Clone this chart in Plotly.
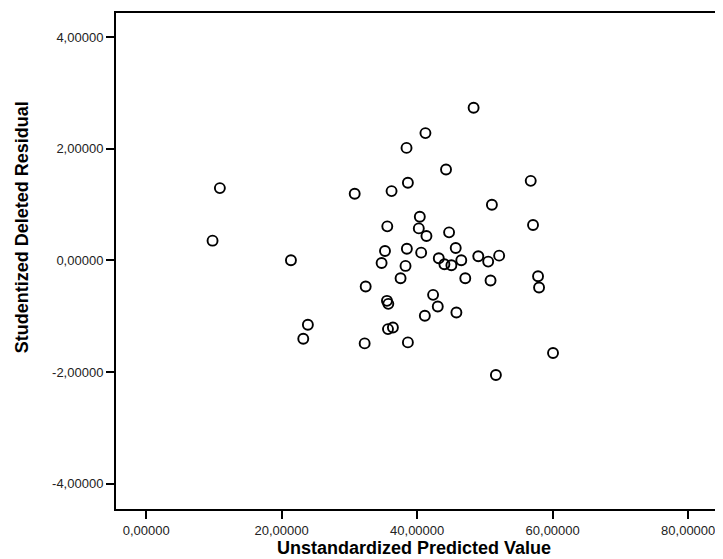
import plotly.graph_objects as go

# Data
predicted = [10.88, 9.80, 21.37, 23.87, 23.19, 30.78, 32.25, 32.40, 36.22, 38.63,
             38.43, 41.22, 48.33, 44.26, 35.59, 40.39, 40.24, 41.37, 44.71, 35.25,
             38.48, 40.59, 45.69, 34.75, 38.28, 37.55, 43.19, 44.02, 45.05, 46.51,
             47.10, 49.02, 42.35, 43.04, 35.54, 35.74, 41.13, 45.79, 35.69, 36.42,
             38.63, 56.76, 51.03, 57.10, 50.48, 52.10, 50.83, 57.84, 57.99, 60.05,
             51.62]
residual = [1.295, 0.354, 0.003, -1.152, -1.402, 1.193, -1.485, -0.467, 1.241, 1.390,
            2.015, 2.280, 2.735, 1.628, 0.610, 0.783, 0.574, 0.437, 0.503, 0.170,
            0.210, 0.140, 0.223, -0.045, -0.098, -0.318, 0.039, -0.068, -0.086, 0.003,
            -0.318, 0.075, -0.616, -0.825, -0.723, -0.777, -0.991, -0.932, -1.229, -1.200,
            -1.467, 1.425, 0.997, 0.634, -0.021, 0.086, -0.360, -0.283, -0.485, -1.658,
            -2.050]

x_tickvals = [0, 20, 40, 60, 80]
x_ticktext = ["0,00000", "20,00000", "40,00000", "60,00000", "80,00000"]
y_tickvals = [-4, -2, 0, 2, 4]
y_ticktext = ["-4,00000", "-2,00000", "0,00000", "2,00000", "4,00000"]

x_title = "Unstandardized Predicted Value"
y_title = "Studentized Deleted Residual"

fig = go.Figure()
fig.add_trace(go.Scatter(
    x=predicted, y=residual, mode="markers",
    marker=dict(symbol="circle-open", size=10, color="black",
                line=dict(color="black", width=1.9)),
    showlegend=False, hoverinfo="x+y",
))

axis_common = dict(
    showline=True, linecolor="black", linewidth=2, mirror=True,
    ticks="outside", ticklen=8, tickwidth=2, tickcolor="black",
    showgrid=False, zeroline=False,
    tickfont=dict(family="Liberation Sans, Arial, sans-serif", size=13, color="#222222"),
)

# The page body adds an 8px margin, so the figure is sized/offset to compensate.
fig.update_layout(
    width=715, height=551,
    margin=dict(l=108, r=3, t=4, b=50),
    paper_bgcolor="white", plot_bgcolor="white",
    xaxis=dict(range=[-4.45, 84.4], tickvals=x_tickvals, ticktext=x_ticktext,
               **axis_common),
    yaxis=dict(range=[-4.45, 4.43], tickvals=y_tickvals, ticktext=y_ticktext,
               **axis_common),
    annotations=[
        dict(text="<b>" + x_title + "</b>", xref="paper", yref="paper",
             x=0.495, y=-0.079, xanchor="center", yanchor="middle", showarrow=False,
             font=dict(family="Liberation Sans, Arial, sans-serif", size=18, color="black")),
        dict(text="<b>" + y_title + "</b>", xref="paper", yref="paper",
             x=-0.157, y=0.569, xanchor="center", yanchor="middle", showarrow=False,
             textangle=-90,
             font=dict(family="Liberation Sans, Arial, sans-serif", size=18, color="black")),
    ],
)

fig.write_html("out.html")
